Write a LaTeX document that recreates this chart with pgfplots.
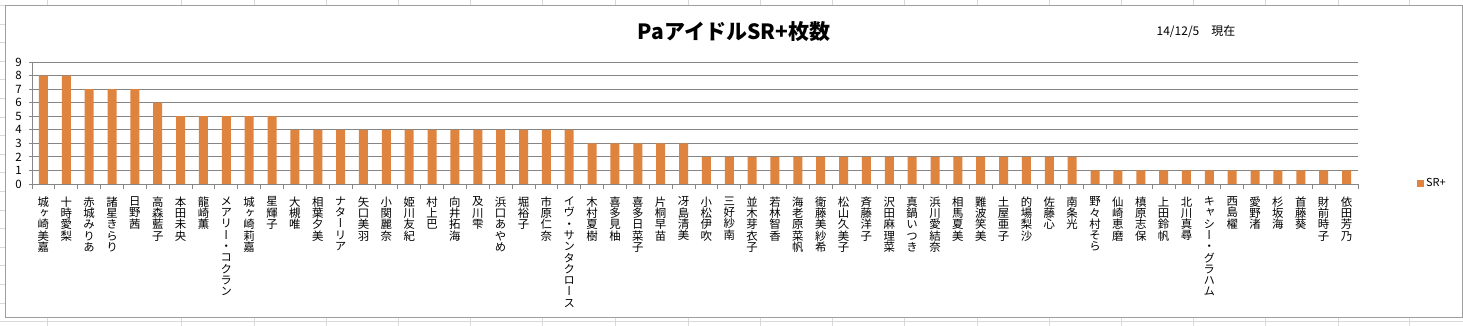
\documentclass[border=0pt]{standalone}
\usepackage{fontspec}
\usepackage{pgfplots}
\pgfplotsset{compat=1.18}
\setmainfont{Noto Sans CJK JP}
\newfontfamily\vfont[RawFeature=+vert]{Noto Sans CJK JP}
\definecolor{barC}{RGB}{222,132,63}
\definecolor{gridC}{RGB}{134,134,134}
\definecolor{sheetC}{RGB}{217,217,217}
\long\def\Vgobble#1{}
\long\def\Vfirst#1{#1}
\def\Vaux#1#2\Vend{#1\ifx\relax#2\relax\expandafter\Vgobble\else\expandafter\Vfirst\fi{\\\Vaux#2\Vend}}
\newcommand\V[1]{\Vaux#1\Vend}
\newcommand\vlab{\vfont\fontsize{11.4}{11.3}\selectfont\setlength\lineskiplimit{-100pt}\setlength\lineskip{0pt}}
\begin{document}
\begin{tikzpicture}
\begin{scope}[x=1pt,y=-1pt,shift={(-32pt,184pt)}]
\useasboundingbox (0,0) rectangle (1463,326);
\foreach \c in {47,181,254,326,398,470,542,615,688,760,832,904,977,1049,1121,1193,1265,1338,1409}
  \draw[sheetC, line width=0.8pt] (\c,0) -- (\c,326);
\foreach \r in {5.5,24,42.6,...,326}
  \draw[sheetC, line width=0.8pt] (0,\r) -- (1463,\r);
\filldraw[fill=white, draw=gridC!80, line width=1pt] (5.5,5.5) rectangle (1462,317);
\node[font=\bfseries\fontsize{21}{24}\selectfont] at (734,32) {PaアイドルSR+枚数};
\node[font=\fontsize{12}{14}\selectfont] at (1196,32) {14/12/5　現在};
\end{scope}
\begin{axis}[
  at={(0,0)}, anchor=south west,
  scale only axis, width=1326pt, height=122pt,
  xmin=-0.5, xmax=57.5, ymin=0, ymax=9,
  ybar, bar width=9pt,
  axis x line*=bottom, axis y line*=left,
  axis line style={gridC, line width=0.8pt},
  ymajorgrids, grid style={gridC, line width=0.8pt},
  ytick={0,...,9},
  tick align=outside,
  major tick length=3pt, minor tick length=5pt,
  y tick style={gridC, line width=0.8pt},
  x tick style={gridC, line width=0.8pt},
  xtick={0,...,57}, major x tick style={draw=none},
  minor xtick={-0.5,0.5,...,57.5},
  /pgf/number format/assume math mode=true,
  yticklabel style={font=\fontsize{11.5}{13}\selectfont, inner sep=0pt, xshift=-7pt},
  xticklabel style={font=\vlab, align=center, anchor=north, inner sep=0pt, yshift=-9.5pt},
  xticklabels={\V{城ヶ崎美嘉},\V{十時愛梨},\V{赤城みりあ},\V{諸星きらり},\V{日野茜},\V{高森藍子},\V{本田未央},\V{龍崎薫},\V{メアリー・コクラン},\V{城ヶ崎莉嘉},\V{星輝子},\V{大槻唯},\V{相葉夕美},\V{ナターリア},\V{矢口美羽},\V{小関麗奈},\V{姫川友紀},\V{村上巴},\V{向井拓海},\V{及川雫},\V{浜口あやめ},\V{堀裕子},\V{市原仁奈},\V{イヴ・サンタクロース},\V{木村夏樹},\V{喜多見柚},\V{喜多日菜子},\V{片桐早苗},\V{冴島清美},\V{小松伊吹},\V{三好紗南},\V{並木芽衣子},\V{若林智香},\V{海老原菜帆},\V{衛藤美紗希},\V{松山久美子},\V{斉藤洋子},\V{沢田麻理菜},\V{真鍋いつき},\V{浜川愛結奈},\V{相馬夏美},\V{難波笑美},\V{土屋亜子},\V{的場梨沙},\V{佐藤心},\V{南条光},\V{野々村そら},\V{仙崎恵磨},\V{槙原志保},\V{上田鈴帆},\V{北川真尋},\V{キャシー・グラハム},\V{西島櫂},\V{愛野渚},\V{杉坂海},\V{首藤葵},\V{財前時子},\V{依田芳乃}},
  legend style={at={(1.0445,0.004)}, anchor=west, draw=none, fill=none, font=\fontsize{11}{13}\selectfont, inner sep=0pt},
  legend image code/.code={\fill[barC] (0pt,-3.5pt) rectangle (7pt,3.5pt);},
]
\addplot[fill=barC, draw=none] coordinates {
(0,8) (1,8) (2,7) (3,7) (4,7) (5,6) (6,5) (7,5) (8,5) (9,5) (10,5)
(11,4) (12,4) (13,4) (14,4) (15,4) (16,4) (17,4) (18,4) (19,4) (20,4) (21,4) (22,4) (23,4)
(24,3) (25,3) (26,3) (27,3) (28,3)
(29,2) (30,2) (31,2) (32,2) (33,2) (34,2) (35,2) (36,2) (37,2) (38,2) (39,2) (40,2) (41,2) (42,2) (43,2) (44,2) (45,2)
(46,1) (47,1) (48,1) (49,1) (50,1) (51,1) (52,1) (53,1) (54,1) (55,1) (56,1) (57,1)
};
\addlegendentry{SR+}
\end{axis}
\end{tikzpicture}
\end{document}
